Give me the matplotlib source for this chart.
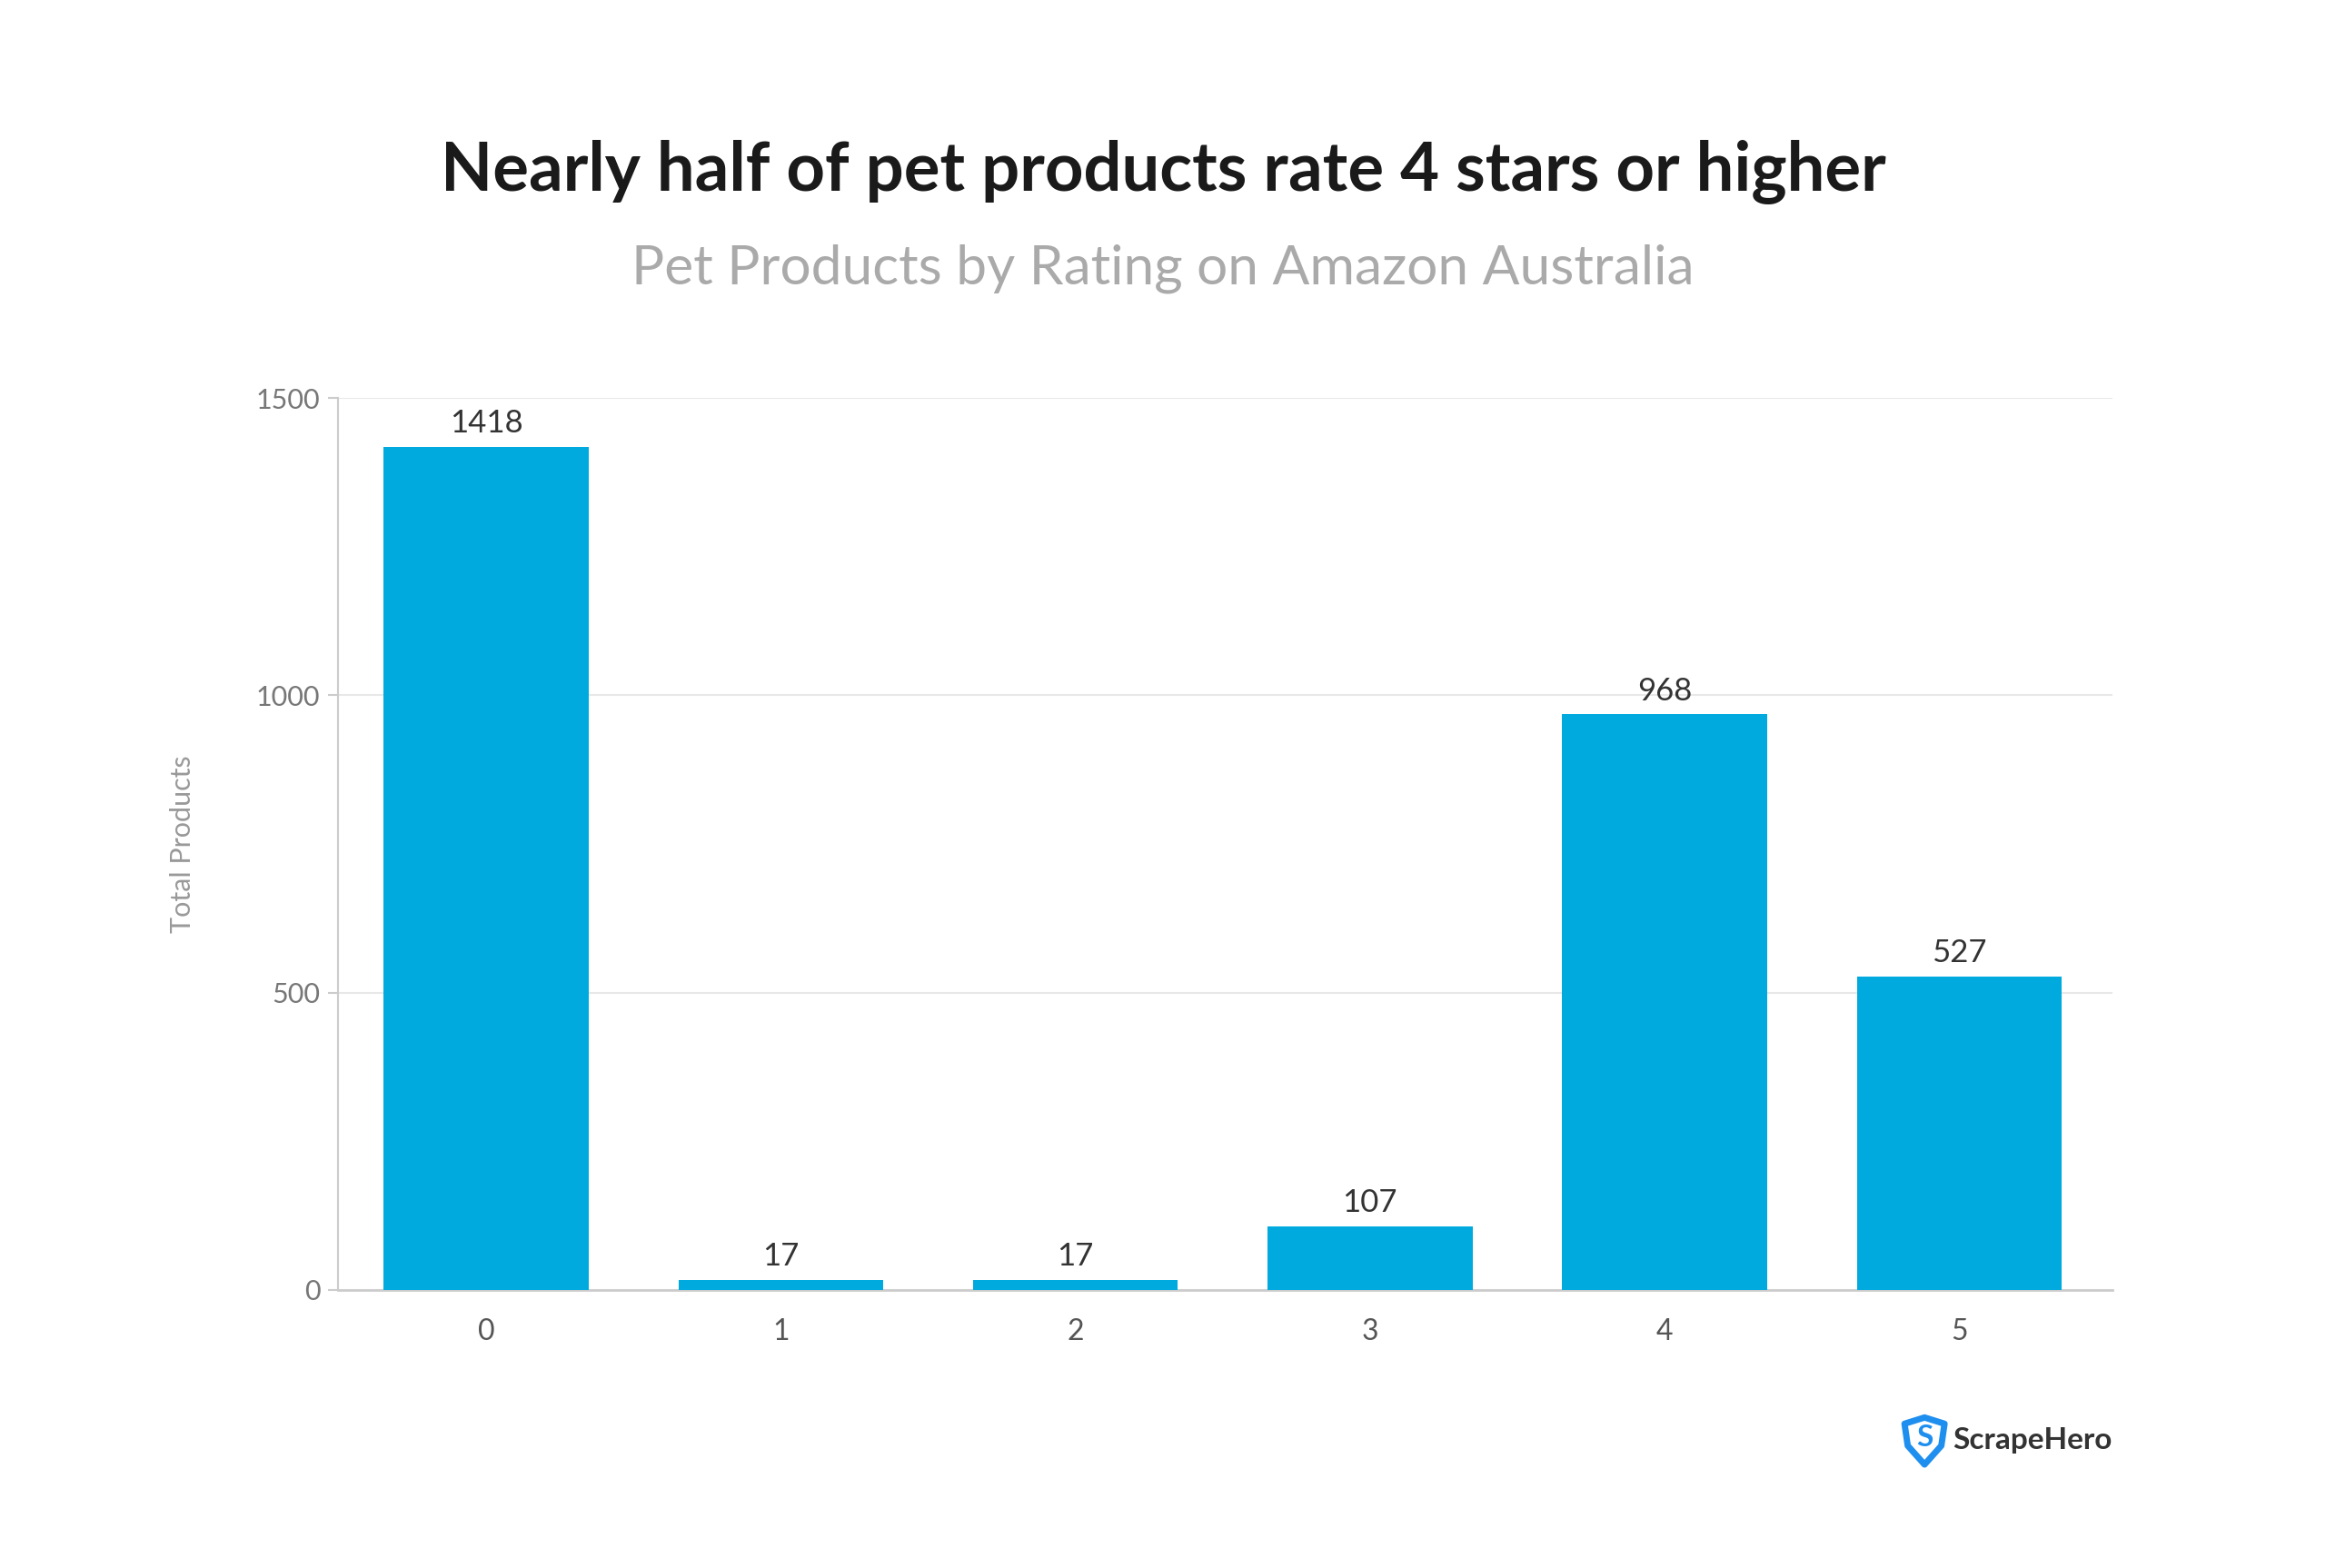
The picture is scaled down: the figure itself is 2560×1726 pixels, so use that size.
import matplotlib
matplotlib.use("Agg")
import matplotlib.pyplot as plt
from matplotlib.patches import Polygon
import numpy as np

ratings = ["0", "1", "2", "3", "4", "5"]
products = [1418, 17, 17, 107, 968, 527]
yticks = [0, 500, 1000, 1500]

title = "Nearly half of pet products rate 4 stars or higher"
subtitle = "Pet Products by Rating on Amazon Australia"

plt.rcParams['font.family'] = ['Lato', 'DejaVu Sans']

fig = plt.figure(figsize=(25.6, 17.26), dpi=100)
ax = fig.add_axes([0.1453, 0.1773, 0.7629, 0.5689])

x = np.arange(len(ratings))
ax.bar(x, products, width=0.695, color="#00AADF", zorder=3)
for xi, v in zip(x, products):
    ax.annotate(str(v), (xi, v), xytext=(0, 7), textcoords="offset points",
                ha="center", va="bottom", fontsize=25, color="#333333")

ax.set_xlim(-0.503, 5.52)
ax.set_ylim(0, 1500)
ax.set_yticks(yticks)
ax.set_yticklabels([str(t) for t in yticks])
ax.set_xticks(x)
ax.set_xticklabels(ratings)
ax.grid(axis="y", color="#E8E8E8", linewidth=1.5, zorder=0)
for s in ["top", "right"]:
    ax.spines[s].set_visible(False)
ax.spines["left"].set_color("#CCCCCC")
ax.spines["bottom"].set_color("#CCCCCC")
ax.spines["left"].set_linewidth(1.5)
ax.spines["bottom"].set_linewidth(2)
ax.tick_params(axis="y", colors="#CCCCCC", labelcolor="#777777", labelsize=22, length=8, width=1.5, pad=6)
ax.tick_params(axis="x", length=0, labelcolor="#555555", labelsize=23, pad=22)
ax.set_ylabel("Total Products", fontsize=22, color="#999999", labelpad=48)

fig.text(0.5, 0.890, title, ha="center", va="center", fontsize=53.5, fontweight="bold", color="#1A1A1A")
fig.text(0.5, 0.8284, subtitle, ha="center", va="center", fontsize=43.5, color="#AAAAAA")

# logo
lx, top, bot = 0.8188, 0.0960, 0.0660
w = 0.0172
shield = Polygon([[lx, top - 0.004], [lx + w / 2, top], [lx + w, top - 0.004],
                  [lx + w * 0.92, bot + 0.012], [lx + w / 2, bot], [lx + w * 0.08, bot + 0.012]],
                 closed=True, transform=fig.transFigure, facecolor="white",
                 edgecolor="#1E8FEF", linewidth=5, joinstyle="round")
fig.patches.append(shield)
fig.text(lx + w / 2, (top + bot) / 2 + 0.002, "S", ha="center", va="center", fontsize=24,
         fontweight="bold", color="#1E8FEF")
fig.text(0.9082, 0.0815, "ScrapeHero", ha="right", va="center", fontsize=24,
         fontweight="bold", color="#333333")

fig.savefig("out.png", dpi=100, facecolor="white")
